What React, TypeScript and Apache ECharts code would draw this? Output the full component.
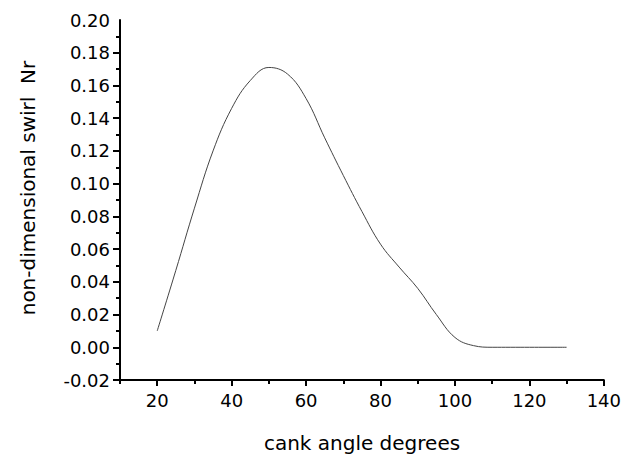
import React, { useEffect, useRef } from "react";
import * as echarts from "echarts";

const crankAngle = [20, 25, 30, 35, 40, 45, 50, 55, 60, 65, 70, 75, 80, 85, 90, 95, 100, 105, 110, 115, 120, 125, 130];
const swirl = [0.010, 0.047, 0.085, 0.120, 0.146, 0.163, 0.171, 0.167, 0.152, 0.128, 0.105, 0.083, 0.063, 0.049, 0.036, 0.020, 0.006, 0.001, 0.0, 0.0, 0.0, 0.0, 0.0];

const xMajorTicks = [20, 40, 60, 80, 100, 120, 140];
const xMinorTicks = [10, 30, 50, 70, 90, 110, 130];
const yMajorTicks = [-0.02, 0, 0.02, 0.04, 0.06, 0.08, 0.1, 0.12, 0.14, 0.16, 0.18];
const xTitle = "cank angle degrees";
const yTitle = "non-dimensional swirl  Nr";

export default function App() {
  const ref = useRef<HTMLDivElement>(null);
  useEffect(() => {
    if (!ref.current) return;
    const chart = echarts.init(ref.current, null, { renderer: "svg" });
    const font = "DejaVu Sans, Verdana, sans-serif";
    chart.setOption({
      animation: false,
      backgroundColor: "#fff",
      grid: { left: 120, right: 20, top: 20, bottom: 80 },
      xAxis: [
        {
          type: "value",
          min: 10,
          max: 140,
          interval: 10,
          axisLine: { show: true, onZero: false, lineStyle: { color: "#000", width: 2 } },
          axisTick: { show: true, length: 6, customValues: xMajorTicks, lineStyle: { color: "#000", width: 2 } },
          axisLabel: { customValues: xMajorTicks, color: "#000", fontSize: 18, fontFamily: font, margin: 11 },
          splitLine: { show: false },
        },
        {
          type: "value",
          position: "bottom",
          min: 10,
          max: 140,
          interval: 10,
          axisLine: { show: false, onZero: false },
          axisTick: { show: true, length: 4, customValues: xMinorTicks, lineStyle: { color: "#000", width: 2 } },
          axisLabel: { show: false },
          splitLine: { show: false },
        },
      ],
      yAxis: {
        type: "value",
        min: -0.02,
        max: 0.2,
        interval: 0.02,
        axisLine: { show: true, onZero: false, lineStyle: { color: "#000", width: 2 } },
        axisTick: { show: true, length: 7, customValues: yMajorTicks, lineStyle: { color: "#000", width: 2 } },
        minorTick: { show: true, splitNumber: 2, length: 4, lineStyle: { color: "#000", width: 2 } },
        axisLabel: {
          color: "#000",
          fontSize: 18,
          fontFamily: font,
          margin: 10,
          formatter: (v: number) => v.toFixed(2),
        },
        splitLine: { show: false },
      },
      graphic: [
        {
          type: "text",
          x: 362,
          y: 443,
          style: { text: xTitle, fontSize: 20, fontFamily: font, fill: "#000", textAlign: "center", textVerticalAlign: "middle" },
        },
        {
          type: "text",
          x: 28,
          y: 188,
          rotation: Math.PI / 2,
          style: { text: yTitle, fontSize: 20, fontFamily: font, fill: "#000", textAlign: "center", textVerticalAlign: "middle" },
        },
      ],
      series: [
        {
          type: "line",
          xAxisIndex: 0,
          data: crankAngle.map((a, i) => [a, swirl[i]]),
          smooth: 0.4,
          showSymbol: false,
          lineStyle: { color: "#444", width: 1 },
        },
      ],
    });
    return () => chart.dispose();
  }, []);
  return <div ref={ref} style={{ width: 624, height: 460, position: "absolute", left: 0, top: 0 }} />;
}
